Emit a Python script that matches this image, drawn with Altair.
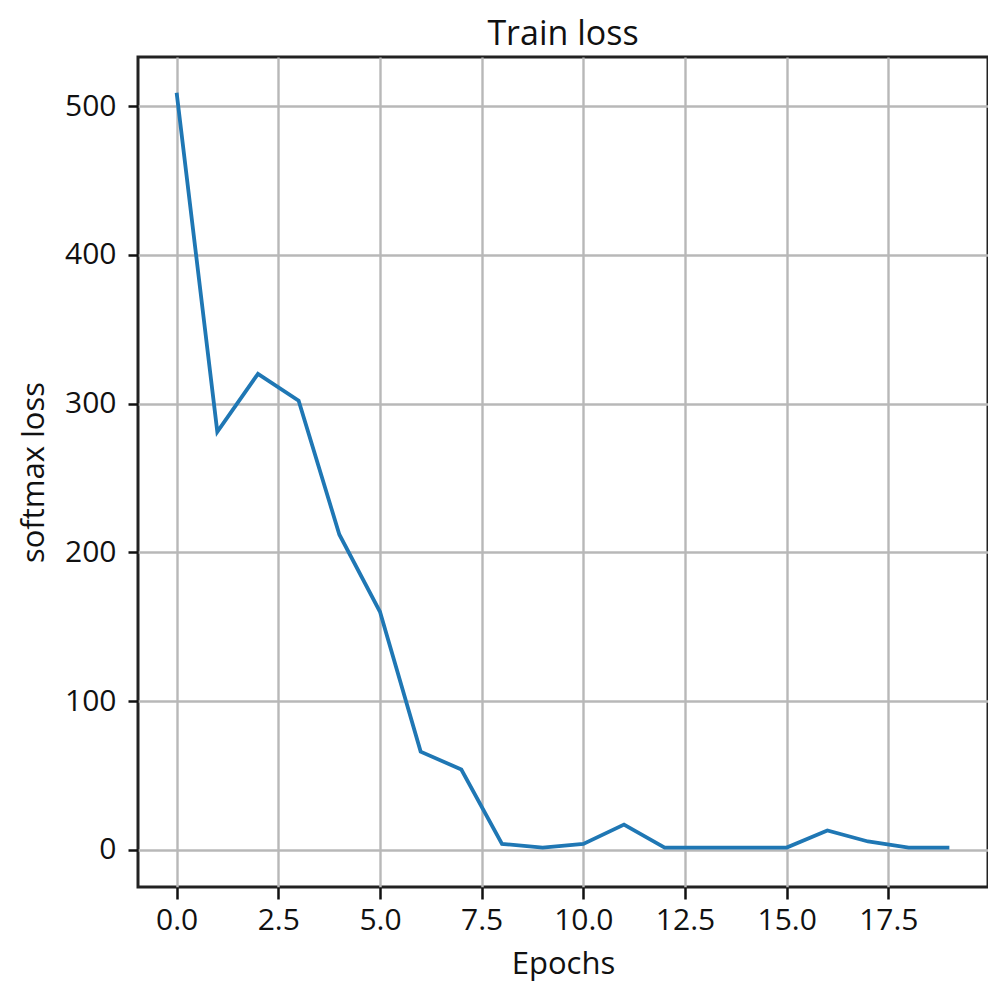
import altair as alt
import pandas as pd

epochs = list(range(20))
loss = [509, 281, 320, 302, 212, 160, 66, 54, 4, 1.5, 4, 17, 1.5, 1.5, 1.5, 1.5, 13, 5.6, 1.5, 1.5]
x_ticks = [0.0, 2.5, 5.0, 7.5, 10.0, 12.5, 15.0, 17.5]
y_ticks = [0, 100, 200, 300, 400, 500]

df = pd.DataFrame({"epoch": epochs, "loss": loss})

FONT = "Open Sans"

chart = alt.Chart(df).mark_line(color="#1f77b4", strokeWidth=3.8).encode(
    x=alt.X(
        "epoch:Q",
        title="Epochs",
        scale=alt.Scale(domain=[-0.95, 19.95], nice=False, zero=False),
        axis=alt.Axis(
            values=x_ticks,
            format=".1f",
            tickSize=12,
            tickWidth=2.5,
            tickColor="#111",
            labelPadding=6,
            labelFont=FONT,
            labelFontSize=30,
            labelColor="#111",
            titleFont=FONT,
            titleFontSize=31,
            titleFontWeight="normal",
            titleColor="#111",
            titlePadding=14,
            grid=True,
            gridColor="#b8b8b8",
            gridWidth=2.4,
            domain=False,
        ),
    ),
    y=alt.Y(
        "loss:Q",
        title="softmax loss",
        scale=alt.Scale(domain=[-25, 533], nice=False, zero=False),
        axis=alt.Axis(
            values=y_ticks,
            format="d",
            tickSize=10,
            tickWidth=2.5,
            tickColor="#111",
            labelPadding=12,
            labelFont=FONT,
            labelFontSize=30,
            labelColor="#111",
            titleFont=FONT,
            titleFontSize=31,
            titleFontWeight="normal",
            titleColor="#111",
            titlePadding=14,
            grid=True,
            gridColor="#b8b8b8",
            gridWidth=2.4,
            domain=False,
        ),
    ),
).properties(
    width=850,
    height=830,
    title=alt.TitleParams(
        "Train loss",
        font=FONT,
        fontSize=34,
        fontWeight="normal",
        color="#111",
        anchor="middle",
        offset=5,
    ),
    autosize=alt.AutoSizeParams(type="pad"),
    padding={"left": 10, "top": 10, "right": 0, "bottom": 4},
).configure(
    background="white",
    view=alt.ViewConfig(stroke="#222", strokeWidth=3),
)

chart.save("out.html", embed_options={"renderer": "svg", "actions": False})
